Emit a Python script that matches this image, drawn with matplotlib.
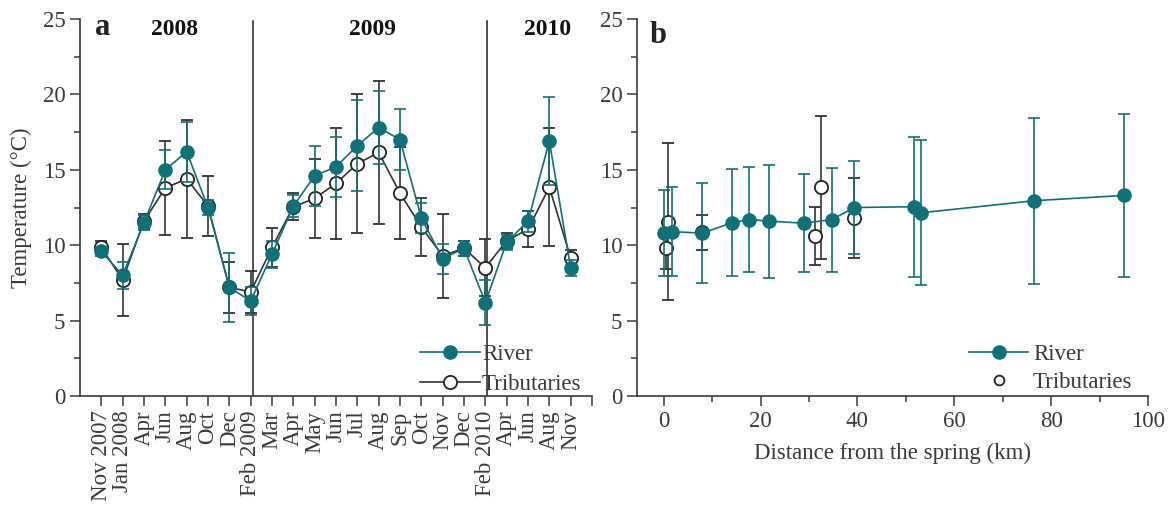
import matplotlib
matplotlib.use("Agg")
import matplotlib.pyplot as plt
from matplotlib.lines import Line2D
from matplotlib.ticker import MultipleLocator, FixedLocator

# ---- Panel a: monthly temperatures ----
months = ["Nov 2007", "Jan 2008", "Apr", "Jun", "Aug", "Oct", "Dec", "Feb 2009",
          "Mar", "Apr", "May", "Jun", "Jul", "Aug", "Sep", "Oct", "Nov", "Dec",
          "Feb 2010", "Apr", "Jun", "Aug", "Nov"]
river_month = [9.6, 8.0, 11.5, 15.0, 16.2, 12.5, 7.2, 6.3, 9.4, 12.6, 14.6, 15.2,
               16.6, 17.8, 17.0, 11.8, 9.1, 9.8, 6.2, 10.2, 11.6, 16.9, 8.5]
river_month_sd = [0.3, 0.9, 0.5, 1.3, 2.0, 0.5, 2.3, 0.9, 0.9, 0.7, 2.0, 2.0,
                  3.0, 2.4, 2.0, 1.0, 1.0, 0.5, 1.5, 0.5, 0.7, 2.9, 0.55]
trib_month = [9.85, 7.7, 11.6, 13.8, 14.4, 12.6, 7.2, 6.9, 9.85, 12.55, 13.1, 14.1,
              15.4, 16.15, 13.45, 11.2, 9.3, 9.8, 8.5, 10.3, 11.05, 13.85, 9.15]
trib_month_sd = [0.4, 2.4, 0.5, 3.1, 3.9, 2.0, 1.7, 1.4, 1.3, 0.9, 2.6, 3.7,
                 4.6, 4.75, 3.05, 1.9, 2.8, 0.5, 1.9, 0.5, 1.2, 3.9, 0.55]
years = ["2008", "2009", "2010"]

# ---- Panel b: temperature along the river ----
river_km = [0, 1.8, 8.0, 14.2, 17.7, 21.7, 28.9, 34.7, 39.4, 51.7, 53.2, 76.5, 95.0]
river_temp = [10.8, 10.9, 10.8, 11.5, 11.7, 11.6, 11.46, 11.7, 12.5, 12.55, 12.15,
              12.95, 13.3]
river_temp_sd = [2.85, 2.95, 3.3, 3.55, 3.5, 3.75, 3.25, 3.45, 3.07, 4.65, 4.8,
                 5.5, 5.4]
trib_km = [0.55, 1.0, 8.0, 31.3, 32.4, 39.4]
trib_temp = [9.8, 11.55, 10.85, 10.62, 13.85, 11.8]
trib_temp_sd = [1.35, 5.2, 1.15, 1.9, 4.75, 2.65]

TEAL = "#0f7177"
DARK = "#333333"
AXC = "#3a3a3a"
FS = 16.5

plt.rcParams["font.family"] = ["Liberation Serif", "DejaVu Serif"]
plt.rcParams["text.color"] = AXC
plt.rcParams["axes.labelcolor"] = AXC

fig = plt.figure(figsize=(11.75, 5.17), dpi=100)
W, H = 1175.0, 517.0
ax1 = fig.add_axes([80 / W, 1 - 396 / H, 512 / W, 377 / H])
ax2 = fig.add_axes([637 / W, 1 - 396 / H, 511 / W, 377 / H])


def style_axes(ax):
    for side in ("top", "right"):
        ax.spines[side].set_visible(False)
    for side in ("left", "bottom"):
        ax.spines[side].set_color(AXC)
        ax.spines[side].set_linewidth(1.2)
    ax.tick_params(which="both", direction="out", colors=AXC, width=1.1,
                   labelsize=FS)
    ax.tick_params(which="major", length=7)
    ax.tick_params(which="minor", length=4)
    ax.set_ylim(0, 25)
    ax.yaxis.set_major_locator(MultipleLocator(5))
    ax.yaxis.set_minor_locator(MultipleLocator(2.5))


err_kw = dict(capsize=4, elinewidth=1.2, capthick=1.2, lw=1.2, ms=9.5)

river_handle = Line2D([], [], color=TEAL, lw=1.2, marker="o", ms=9.5,
                      mfc=TEAL, mec=TEAL)

# Panel a
xa = list(range(1, len(months) + 1))
style_axes(ax1)
ax1.errorbar(xa, trib_month, yerr=trib_month_sd, fmt="-o", color=DARK,
             mfc="white", mec="#222222", mew=1.3, zorder=3, **err_kw)
ax1.errorbar(xa, river_month, yerr=river_month_sd, fmt="-o", color=TEAL,
             mfc=TEAL, mec=TEAL, zorder=4, **err_kw)
ax1.set_xlim(0, 24)
ax1.xaxis.set_major_locator(FixedLocator(xa))
ax1.xaxis.set_minor_locator(FixedLocator([24]))
ax1.tick_params(axis="x", which="minor", length=7)
ax1.set_xticklabels(months, rotation=90, fontsize=FS)
ax1.axvline(8.1, ymax=0.995, color="#222222", lw=1.1, zorder=2)
ax1.axvline(19.1, ymax=0.995, color="#222222", lw=1.1, zorder=2)
for xpos, yr in zip([4.45, 13.7, 21.9], years):
    ax1.text(xpos, 24.3, yr, ha="center", va="center", fontsize=17,
             fontweight="bold", color="#111111")
ax1.text(0.03, 1.015, "a", transform=ax1.transAxes, ha="left", va="top",
         fontsize=22, fontweight="bold", color="#222222")
ax1.set_ylabel("Temperature (°C)", fontsize=FS, labelpad=8)
trib_handle_a = Line2D([], [], color=DARK, lw=1.2, marker="o", ms=9.5,
                       mfc="white", mec="#222222", mew=1.3)
ax1.legend([river_handle, trib_handle_a], ["River", "Tributaries"],
           loc="lower right", bbox_to_anchor=(1.02, -0.052),
           frameon=False, fontsize=FS, handlelength=2.6, handletextpad=0.1,
           labelspacing=0.4)

# Panel b
style_axes(ax2)
ax2.errorbar(trib_km, trib_temp, yerr=trib_temp_sd, fmt="o", color=DARK,
             mfc="white", mec="#222222", mew=1.3, zorder=3, **err_kw)
ax2.errorbar(river_km, river_temp, yerr=river_temp_sd, fmt="-o", color=TEAL,
             mfc=TEAL, mec=TEAL, zorder=4, **err_kw)
ax2.set_xlim(-5.5, 100)
ax2.xaxis.set_major_locator(MultipleLocator(20))
ax2.xaxis.set_minor_locator(MultipleLocator(10))
ax2.set_xlabel("Distance from the spring (km)", fontsize=FS, labelpad=8)
ax2.text(0.025, 0.995, "b", transform=ax2.transAxes, ha="left", va="top",
         fontsize=22, fontweight="bold", color="#222222")
trib_handle_b = Line2D([], [], ls="none", marker="o", ms=7,
                       mfc="white", mec="#222222", mew=1.3)
ax2.legend([river_handle, trib_handle_b], ["River", "Tributaries"],
           loc="lower right", bbox_to_anchor=(1.01, -0.047),
           frameon=False, fontsize=FS, handlelength=2.6, handletextpad=0.2,
           labelspacing=0.3)

fig.savefig("out.png", dpi=100)
